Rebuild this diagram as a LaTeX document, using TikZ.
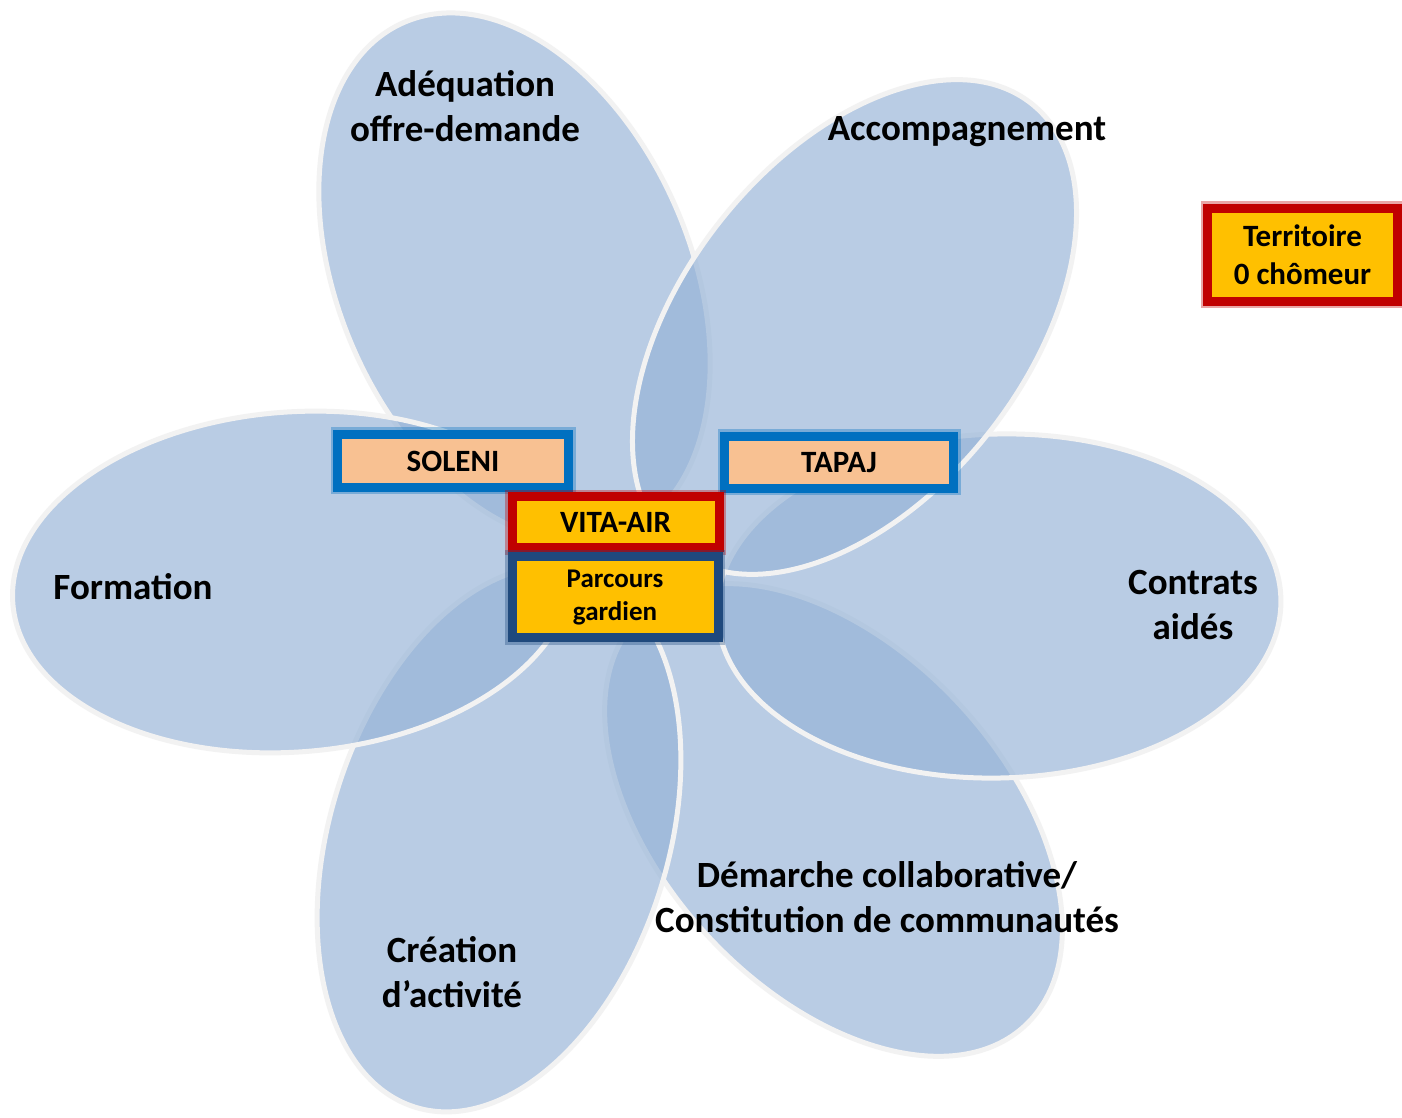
\documentclass[tikz,border=0pt]{standalone}
\usepackage{fontspec}
\setmainfont{Carlito}
\definecolor{petalc}{RGB}{149,179,215}
\definecolor{rim}{RGB}{242,242,242}
\definecolor{bxblue}{RGB}{0,112,192}
\definecolor{bxpeach}{RGB}{248,193,146}
\definecolor{bxred}{RGB}{192,0,0}
\definecolor{bxyellow}{RGB}{255,192,0}
\definecolor{bxnavy}{RGB}{31,73,125}
\begin{document}
\begin{tikzpicture}[x=1pt,y=1pt,
  petal/.style={fill=petalc, fill opacity=0.66, draw=rim, line width=5pt},
  lbl/.style={font=\bfseries\fontsize{37}{45}\selectfont, align=center, text=black, inner sep=0pt},
  tag/.style={draw=#1, line width=9pt, inner sep=0pt, align=center, text=black,
    font=\bfseries\fontsize{31}{38}\selectfont,
    preaction={draw=#1, draw opacity=0.35, line width=14pt}},
]
\useasboundingbox[fill=white] (0,0) rectangle (1402,1117);
% petals (y up: Y = 1117 - y_image)
\draw[petal, rotate around={133:(833.5,297)}] (833.5,297) ellipse [x radius=281, y radius=171];
\draw[petal, rotate around={1.5:(999,511)}] (999,511) ellipse [x radius=282, y radius=172];
\draw[petal, rotate around={72.6:(499,278)}] (499,278) ellipse [x radius=281, y radius=169];
\draw[petal, rotate around={113.4:(514.5,839.5)}] (514.5,839.5) ellipse [x radius=278, y radius=176];
\draw[petal, rotate around={4.4:(293,535)}] (293,535) ellipse [x radius=281, y radius=170];
\draw[petal, rotate around={51.6:(854.5,790)}] (854.5,790) ellipse [x radius=285, y radius=171];
% petal labels
\node[lbl] (adeq) at (465,1011) {Adéquation\\offre-demande};
\node[lbl] (accomp) at (967,985) {Accompagnement};
\node[lbl] (formation) at (133,530) {Formation};
\node[lbl] (contrats) at (1193,512) {Contrats\\aidés};
\node[lbl] (demarche) at (887,220) {Démarche collaborative/\\Constitution de communautés};
\node[lbl] (creation) at (452,145) {Création\\d’activité};
% boxes
\node[tag=bxblue, fill=bxpeach, minimum width=231, minimum height=53] (soleni) at (453,656) {SOLENI};
\node[tag=bxblue, fill=bxpeach, minimum width=229, minimum height=52] (tapaj) at (839,654.5) {TAPAJ};
\node[tag=bxred, fill=bxyellow, minimum width=207, minimum height=51] (vita) at (615.5,594.5) {VITA-AIR};
\node[tag=bxnavy, fill=bxyellow, minimum width=206, minimum height=81,
  font=\bfseries\fontsize{27}{33}\selectfont] (parcours) at (615,519.5) {Parcours\\gardien};
\node[tag=bxred, fill=bxyellow, minimum width=190, minimum height=93] (territoire) at (1302.5,862) {Territoire\\0 chômeur};
\end{tikzpicture}
\end{document}
